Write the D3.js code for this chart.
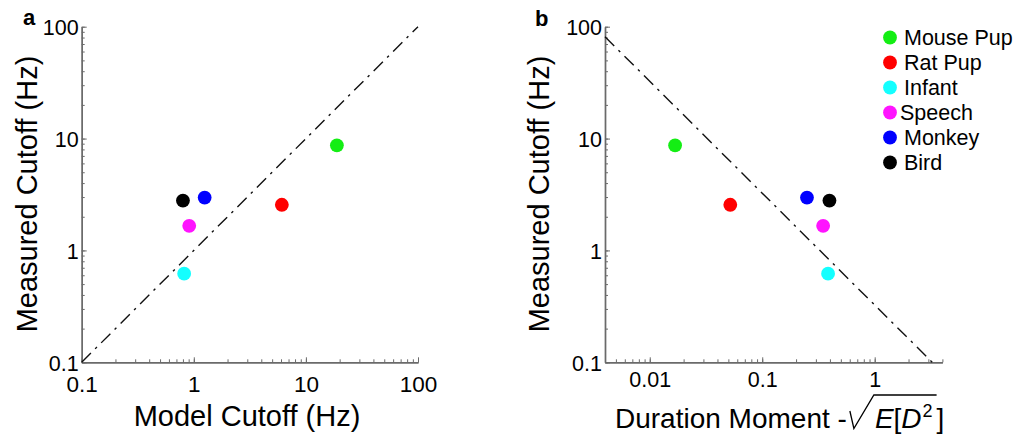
<!DOCTYPE html>
<html>
<head>
<meta charset="utf-8">
<script src="https://cdn.jsdelivr.net/npm/d3@7"></script>
<style>
  html, body { margin: 0; padding: 0; background: #fff; }
  svg { display: block; font-family: "Liberation Sans", Arial, sans-serif; }
</style>
</head>
<body>
<svg id="chart" width="1032" height="434"></svg>
<script>
// Vocalisation categories and their colours
const categories = ["Mouse Pup", "Rat Pup", "Infant", "Speech", "Monkey", "Bird"];
const colors = ["#14ee14", "#ff0000", "#14ffff", "#ff14ff", "#0000ff", "#000000"];

// Cutoff frequencies (Hz)
const modelCutoff    = [18.9, 6.1, 0.82, 0.91, 1.25, 0.80];
const measuredCutoff = [8.7, 2.56, 0.62, 1.66, 2.97, 2.79];

// Duration moment sqrt(E[D^2]) for each category
const durationMoment = [0.0168, 0.052, 0.385, 0.348, 0.25, 0.396];

// Axis tick labels
const cutoffTicks = [0.1, 1, 10, 100];
const durationTicks = [0.01, 0.1, 1];

// Inverse relation drawn in panel b: cutoff = k / duration
const inverseConst = 0.325;

const svg = d3.select("#chart");
const axisGrey = "#6a6a6a";
const fontFamily = "Liberation Sans, Arial, sans-serif";

const y = d3.scaleLog().domain([0.1, 100]).range([362.3, 26.7]);
const xa = d3.scaleLog().domain([0.1, 100]).range([81.7, 418]);
const xb = d3.scaleLog().domain([0.004, 4]).range([605, 942.4]);

function minorTicks(scale) {
  const [lo, hi] = scale.domain();
  const out = [];
  for (let e = Math.floor(Math.log10(lo)); e <= Math.ceil(Math.log10(hi)); e++) {
    for (let m = 1; m <= 9; m++) {
      const v = m * Math.pow(10, e);
      if (v >= lo * 0.9999 && v <= hi * 1.0001) out.push(v);
    }
  }
  return out;
}

function fmt(v) { return String(+v.toPrecision(3)); }

function drawAxes(x, xTicks, xFontSize, xLabelBase) {
  const y0 = y.range()[0];
  const x0 = x.range()[0];
  // minor ticks point into the plot
  const gxm = svg.append("g").attr("transform", `translate(0,${y0})`)
    .call(d3.axisBottom(x).tickValues(minorTicks(x)).tickSize(-3).tickSizeOuter(0).tickFormat(""));
  const gym = svg.append("g").attr("transform", `translate(${x0},0)`)
    .call(d3.axisLeft(y).tickValues(minorTicks(y)).tickSize(-3).tickSizeOuter(0).tickFormat(""));
  // major ticks with labels
  const gx = svg.append("g").attr("transform", `translate(0,${y0})`)
    .call(d3.axisBottom(x).tickValues(xTicks).tickSize(-5).tickSizeOuter(0).tickFormat(fmt).tickPadding(0));
  const gy = svg.append("g").attr("transform", `translate(${x0},0)`)
    .call(d3.axisLeft(y).tickValues(cutoffTicks).tickSize(-5).tickSizeOuter(0).tickFormat(fmt).tickPadding(3));
  [gxm, gym, gx, gy].forEach(g => {
    g.attr("font-family", fontFamily);
    g.select(".domain").attr("stroke", axisGrey).attr("stroke-width", 1.4);
    g.selectAll(".tick line").attr("stroke", axisGrey).attr("stroke-width", 1);
  });
  gx.selectAll(".tick text")
    .attr("font-size", xFontSize).attr("fill", "#000")
    .attr("y", xLabelBase - y0).attr("dy", null);
  gy.selectAll(".tick text")
    .attr("font-size", 21.5).attr("fill", "#000")
    .attr("dy", "0.36em");
}

function drawPoints(x, xs) {
  svg.append("g").selectAll("circle")
    .data(categories.map((c, i) => ({ c, x: xs[i], y: measuredCutoff[i], col: colors[i] })))
    .join("circle")
    .attr("cx", d => x(d.x))
    .attr("cy", d => y(d.y))
    .attr("r", 6.9)
    .attr("fill", d => d.col);
}

const dashStyle = "13,6,2.5,6";

// ---------- Panel a: measured vs model cutoff ----------
drawAxes(xa, cutoffTicks, 22.5, 392.5);
svg.append("line")
  .attr("x1", xa(0.1)).attr("y1", y(0.1))
  .attr("x2", xa(100)).attr("y2", y(100))
  .attr("stroke", "#111").attr("stroke-width", 1.4)
  .attr("stroke-dasharray", dashStyle);
drawPoints(xa, modelCutoff);

svg.append("text").attr("x", 247).attr("y", 426)
  .attr("text-anchor", "middle").attr("font-size", 29)
  .text("Model Cutoff (Hz)");
svg.append("text").attr("transform", "translate(37,194) rotate(-90)")
  .attr("text-anchor", "middle").attr("font-size", 29)
  .text("Measured Cutoff (Hz)");
svg.append("text").attr("x", 23).attr("y", 25)
  .attr("font-size", 22).attr("font-weight", "bold").text("a");

// ---------- Panel b: measured cutoff vs duration moment ----------
drawAxes(xb, durationTicks, 21.5, 387.5);
const xStart = xb.domain()[0];
const xEnd = inverseConst / y.domain()[0];
svg.append("line")
  .attr("x1", xb(xStart)).attr("y1", y(inverseConst / xStart))
  .attr("x2", xb(xEnd)).attr("y2", y(inverseConst / xEnd))
  .attr("stroke", "#111").attr("stroke-width", 1.4)
  .attr("stroke-dasharray", dashStyle);
drawPoints(xb, durationMoment);

svg.append("text").attr("transform", "translate(549,194) rotate(-90)")
  .attr("text-anchor", "middle").attr("font-size", 29)
  .text("Measured Cutoff (Hz)");
svg.append("text").attr("x", 535).attr("y", 26)
  .attr("font-size", 22).attr("font-weight", "bold").text("b");

// x title with a radical over E[D^2]
(function () {
  const base = 428, fs = 28;
  const g = svg.append("g");
  let cx = 615;
  function piece(str, opts = {}) {
    const t = g.append("text").attr("x", cx).attr("y", base + (opts.dy || 0))
      .attr("font-size", opts.fs || fs)
      .attr("font-style", opts.italic ? "italic" : "normal")
      .text(str);
    const w = t.node().getComputedTextLength();
    cx += w + (opts.after || 0);
    return w;
  }
  piece("Duration Moment -");
  const rx = cx + 3;
  cx = rx + 25;
  piece("E", { italic: true });
  piece("[");
  piece("D", { italic: true, after: 1 });
  piece("2", { fs: 18, dy: -11, after: 4 });
  const overEnd = cx;
  piece("]");
  g.append("path")
    .attr("d", `M${rx},${base - 17} L${rx + 4},${base + 0.5} L${rx + 24},${base - 33} L${overEnd},${base - 33}`)
    .attr("fill", "none").attr("stroke", "#000").attr("stroke-width", 1.3)
    .attr("stroke-linejoin", "miter");
})();

// ---------- Legend ----------
const legend = svg.append("g").selectAll("g")
  .data(categories.map((c, i) => ({ c, col: colors[i], i })))
  .join("g")
  .attr("transform", d => `translate(890,${37.5 + d.i * 25})`);
legend.append("circle").attr("r", 6.9).attr("fill", d => d.col);
legend.append("text").attr("x", d => d.c === "Speech" ? 10 : 14).attr("y", 7.5)
  .attr("font-size", 21.5).text(d => d.c);
</script>
</body>
</html>
